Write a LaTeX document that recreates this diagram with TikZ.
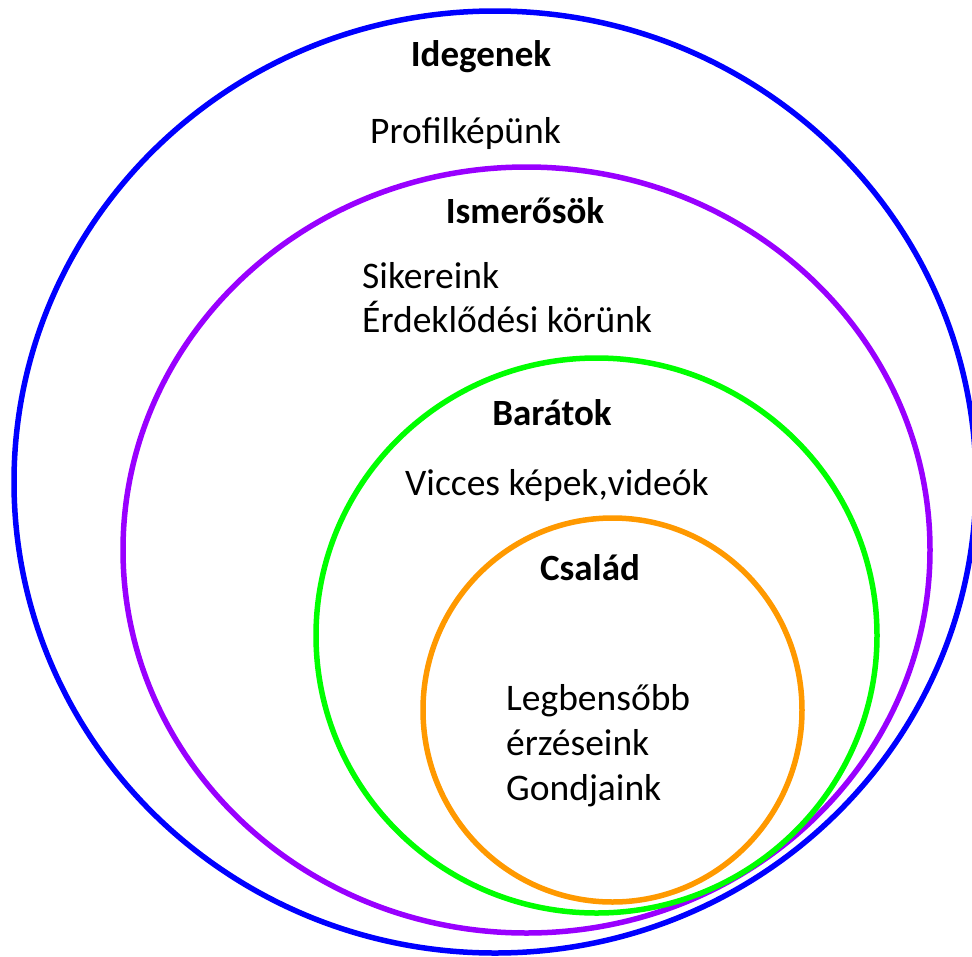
\documentclass[tikz,border=0pt]{standalone}
\usepackage{fontspec}
\setmainfont{Carlito}
\definecolor{kekvonal}{HTML}{0000FF}
\definecolor{lilavonal}{HTML}{9900FF}
\definecolor{zoldvonal}{HTML}{00FF00}
\definecolor{narancsvonal}{HTML}{FF9900}
\tikzset{
  kor/.style={line width=5.5pt},
  cimke/.style={anchor=base, inner sep=0pt, font=\fontsize{37}{44}\selectfont\bfseries},
  szoveg/.style={anchor=base west, inner sep=0pt, font=\fontsize{37.5}{44}\selectfont}
}
\begin{document}
\begin{tikzpicture}[x=1pt,y=-1pt]
	\useasboundingbox (0,0) rectangle (972,956);
	\clip (0,0) rectangle (972,956);

	% korok kivulrol befele
	\draw[kor, kekvonal] (495,482) ellipse [x radius=481pt, y radius=471pt];
	\draw[kor, lilavonal] (526.5,550) ellipse [x radius=403.5pt, y radius=383pt];
	\draw[kor, zoldvonal] (596.5,635.5) ellipse [x radius=280.5pt, y radius=277.5pt];
	\draw[kor, narancsvonal] (612.5,710) ellipse [x radius=189.5pt, y radius=192pt];

	% Idegenek
	\node[cimke] (idegenek) at (481,66) {Idegenek};
	\node[szoveg] (profil) at (370,143) {Profilképünk};
	% Ismerosok
	\node[cimke] (ismerosok) at (525,223) {Ismerősök};
	\node[szoveg] (sikerek) at (362,288) {Sikereink};
	\node[szoveg] (erdeklodes) at (362,332) {Érdeklődési körünk};
	% Baratok
	\node[cimke] (baratok) at (552,425) {Barátok};
	\node[szoveg] (viccek) at (405,495) {Vicces képek,videók};
	% Csalad
	\node[cimke] (csalad) at (590,580) {Család};
	\node[szoveg] (legbenso) at (506,710) {Legbensőbb};
	\node[szoveg] (erzesek) at (506,755) {érzéseink};
	\node[szoveg] (gondok) at (506,800) {Gondjaink};

\end{tikzpicture}
\end{document}
